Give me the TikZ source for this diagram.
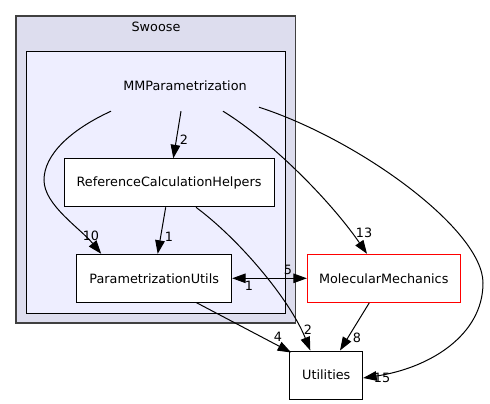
\documentclass[tikz,border=0pt]{standalone}
\usepackage{fontspec}
\setmainfont{DejaVu Sans}
\usetikzlibrary{arrows.meta}
\definecolor{clusterouter}{HTML}{DDDDEE}
\definecolor{clusterinner}{HTML}{EEEEFF}
\definecolor{clusterpen}{HTML}{404040}
\begin{document}
\begin{tikzpicture}[x=1pt,y=-1pt,
    font=\fontsize{12.8}{15}\selectfont,
    dir box/.style={draw=black,line width=1pt,fill=white,inner sep=0pt,minimum height=48pt},
    dep/.style={line width=1pt,-{Triangle[length=13.5pt,width=9.6pt]}},
    dep both/.style={line width=1pt,{Triangle[length=13.5pt,width=9.6pt]}-{Triangle[length=13.5pt,width=9.6pt]}},
    dep count/.style={inner sep=0pt,anchor=center}]
      \useasboundingbox (0,0) rectangle (490,404);

      % clusters
      \draw [clusterpen,line width=1.6pt,fill=clusterouter] (16,16) rectangle (295.5,323);
      \draw [black,line width=1pt,fill=clusterinner] (26.7,51.7) rectangle (285,313);
      \node (swoose) at (156,27) {Swoose};
      \node [minimum width=170pt,minimum height=50pt,inner sep=0pt] (mmp) at (185,86) {MMParametrization};

      % directories
      \node [dir box,minimum width=210pt] (rch) at (169,182.8) {ReferenceCalculationHelpers};
      \node [dir box,minimum width=155pt] (pu) at (154.2,278.3) {ParametrizationUtils};
      \node [dir box,draw=red,minimum width=152.7pt] (mm) at (383.7,278.3) {MolecularMechanics};
      \node [dir box,minimum width=72.7pt] (util) at (326.3,375) {Utilities};

      % dependencies
      \draw [dep] ([xshift=-4pt]mmp.south) -- ([xshift=4.3pt]rch.north);
      \draw [dep] ([xshift=-74pt]mmp.south) .. controls (70,130) and (44,155) .. (44,180)
                  .. controls (44,205) and (80,228) .. ([xshift=-53pt]pu.north);
      \draw [dep] ([xshift=38pt]mmp.south) .. controls (270,140) and (330,200) .. ([xshift=-16.7pt]mm.north);
      \draw [dep] ([xshift=74pt,yshift=4pt]mmp.south) .. controls (360,140) and (483,230) .. (483,283)
                  .. controls (483,335) and (430,368) .. ([yshift=-3pt]util.east);
      \draw [dep] ([xshift=-3.3pt]rch.south) -- ([xshift=3.5pt]pu.north);
      \draw [dep] ([xshift=27pt]rch.south) .. controls (240,240) and (290,300) .. ([xshift=-16pt]util.north);
      \draw [dep both] (pu.east) -- (mm.west);
      \draw [dep] ([xshift=42.5pt]pu.south) -- ([xshift=1.7pt,yshift=-2pt]util.north west);
      \draw [dep] ([xshift=-14.4pt]mm.south) -- ([xshift=13.7pt]util.north);

      % counts
      \node [dep count] (c2a) at (184,140) {2};
      \node [dep count] (c10) at (91,236) {10};
      \node [dep count] (c13) at (364,233) {13};
      \node [dep count] (c15) at (382,378) {15};
      \node [dep count] (c1a) at (169,237) {1};
      \node [dep count] (c2b) at (308,330) {2};
      \node [dep count] (c5) at (288,270) {5};
      \node [dep count] (c1b) at (249,286) {1};
      \node [dep count] (c4) at (278,337) {4};
      \node [dep count] (c8) at (357,338) {8};

    \end{tikzpicture}
\end{document}
